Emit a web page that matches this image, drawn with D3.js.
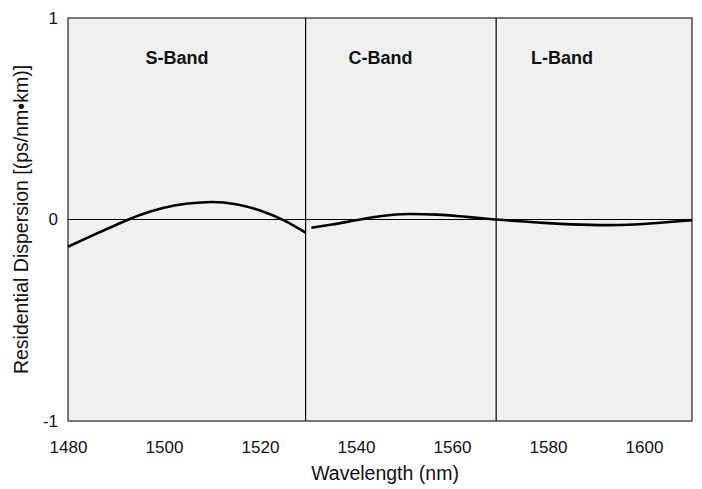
<!DOCTYPE html>
<html><head><meta charset="utf-8">
<script src="https://cdn.jsdelivr.net/npm/d3@7"></script>
<style>body{margin:0;background:#fff}svg{display:block;font-family:"Liberation Sans",Arial,sans-serif}</style>
</head><body><svg id="c" width="702" height="489"></svg>
<script>
const sBandX = [1480,1485,1490,1495,1500,1505,1510,1515,1520,1525,1529.5];
const sBandY = [-0.135,-0.08,-0.027,0.022,0.058,0.079,0.087,0.076,0.045,-0.004,-0.065];
const cBandX = [1530.7,1535,1540,1545,1551,1557,1563,1569];
const cBandY = [-0.041,-0.025,-0.004,0.016,0.027,0.024,0.013,0.0];
const lBandX = [1569,1575,1580,1585,1592,1598,1604,1610];
const lBandY = [0.0,-0.01,-0.018,-0.024,-0.028,-0.025,-0.015,-0.003];
const bandBounds = [1529.5,1569.2];
const bandNames = ["S-Band","C-Band","L-Band"];
const bandLabelX = [1502.7,1545.1,1582.9];
const xTicks = [1480,1500,1520,1540,1560,1580,1600];
const yTicks = [-1,0,1];
const yTickLabels = ["-1","0","1"];
const xTitle = "Wavelength (nm)";
const yTitle = "Residential Dispersion [(ps/nm\u2022km)]";

const L=68,R=692,T=18,B=421;
const svg=d3.select("#c");
const x=d3.scaleLinear().domain([1480,1610]).range([L,R]);
const y=d3.scaleLinear().domain([-1,1]).range([B,T]);

svg.append("rect").attr("x",L).attr("y",T).attr("width",R-L).attr("height",B-T)
  .attr("fill","#f0f0f0");
svg.append("line").attr("x1",L).attr("x2",R).attr("y1",y(0)).attr("y2",y(0))
  .attr("stroke","#000").attr("stroke-width",1);
svg.selectAll("line.band").data(bandBounds).join("line").attr("class","band")
  .attr("x1",d=>x(d)).attr("x2",d=>x(d)).attr("y1",T).attr("y2",B)
  .attr("stroke","#000").attr("stroke-width",1.2);
svg.append("rect").attr("x",L).attr("y",T).attr("width",R-L).attr("height",B-T)
  .attr("fill","none").attr("stroke","#222").attr("stroke-width",1.2);

const line=d3.line().x(d=>x(d[0])).y(d=>y(d[1])).curve(d3.curveMonotoneX);
[[sBandX,sBandY],[cBandX,cBandY],[lBandX,lBandY]].forEach(([xs,ys])=>{
  svg.append("path").attr("d",line(xs.map((v,i)=>[v,ys[i]])))
    .attr("fill","none").attr("stroke","#000").attr("stroke-width",2.6);
});

svg.selectAll("text.band").data(bandNames).join("text").attr("class","band")
  .attr("x",(d,i)=>x(bandLabelX[i])).attr("y",64).attr("text-anchor","middle")
  .attr("font-weight","bold").attr("font-size",18).attr("fill","#111").text(d=>d);

const xAxis=svg.append("g").attr("transform",`translate(0,${B})`)
  .call(d3.axisBottom(x).tickValues(xTicks).tickSize(0).tickPadding(20).tickFormat(d3.format("d")));
xAxis.select(".domain").remove();
xAxis.selectAll("text").attr("font-size",17).attr("fill","#111").attr("font-family","Liberation Sans, Arial, sans-serif");

const yAxis=svg.append("g").attr("transform",`translate(${L},0)`)
  .call(d3.axisLeft(y).tickValues(yTicks).tickSize(0).tickPadding(10).tickFormat((d,i)=>yTickLabels[i]));
yAxis.select(".domain").remove();
yAxis.selectAll("text").attr("font-size",17).attr("fill","#111").attr("font-family","Liberation Sans, Arial, sans-serif");

svg.append("text").attr("x",385).attr("y",480).attr("text-anchor","middle")
  .attr("font-size",19.5).attr("fill","#111").text(xTitle);
svg.append("text").attr("transform",`translate(28,${(T+B)/2}) rotate(-90)`)
  .attr("text-anchor","middle").attr("font-size",19.5).attr("fill","#111").text(yTitle);
</script></body></html>
